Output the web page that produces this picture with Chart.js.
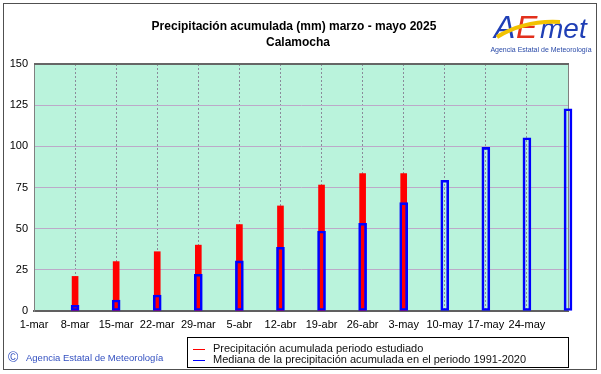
<!DOCTYPE html>
<html>
<head>
<meta charset="utf-8">
<script src="https://cdn.jsdelivr.net/npm/chart.js@4/dist/chart.umd.min.js"></script>
<style>
    html, body { margin: 0; padding: 0; background: #fff; }
    #grafico { display: block; }
</style>
</head>
<body>
<canvas id="grafico" width="601" height="374"></canvas>
<script>
/* ================= DATOS ================= */
const fechas = ["1-mar", "8-mar", "15-mar", "22-mar", "29-mar", "5-abr", "12-abr",
                "19-abr", "26-abr", "3-may", "10-may", "17-may", "24-may", "31-may"];

// precipitación acumulada del periodo estudiado (mm)
const precipitacion = [null, 21, 30, 36, 40, 52.5, 63.8, 76.5, 83.5, 83.5, null, null, null, null];

// mediana de la precipitación acumulada 1991-2020 (mm)
const mediana = [null, 3.5, 6.7, 9.7, 22.3, 30.4, 38.7, 48.6, 53.3, 65.8, 79.4, 99.4, 105.2, 122.8];

const tituloLineas = ["Precipitación acumulada (mm) marzo - mayo 2025", "Calamocha"];
const leyendaTextos = ["Precipitación acumulada periodo estudiado",
                       "Mediana de la precipitación acumulada en el periodo 1991-2020"];

const FUENTE = "'Liberation Sans', Arial, sans-serif";

/* ================= PLUGINS ================= */
const fondo = {
    id: "fondo",
    beforeDraw(chart) {
        const { ctx, chartArea: a } = chart;
        ctx.save();
        ctx.fillStyle = "#fff";
        ctx.fillRect(0, 0, chart.width, chart.height);
        ctx.fillStyle = "#baf3dc";
        ctx.fillRect(a.left, a.top, a.right - a.left, a.bottom - a.top);
        ctx.restore();
    },
    beforeDatasetsDraw(chart) {
        const { ctx, chartArea: a } = chart;
        ctx.save();
        ctx.strokeStyle = "#808080";
        ctx.lineWidth = 1;
        ctx.beginPath();
        ctx.moveTo(a.right + 0.5, a.top);
        ctx.lineTo(a.right + 0.5, a.bottom);
        ctx.stroke();
        ctx.strokeStyle = "#666";
        ctx.lineWidth = 2;
        ctx.beginPath();
        ctx.moveTo(a.left, a.top);
        ctx.lineTo(a.right + 1, a.top);
        ctx.stroke();
        ctx.restore();
    }
};

const decorado = {
    id: "decorado",
    afterDraw(chart) {
        const ctx = chart.ctx;
        ctx.save();

        // marco
        ctx.strokeStyle = "#505050";
        ctx.lineWidth = 1;
        ctx.strokeRect(3.5, 3.5, 593, 366);

        // título
        ctx.fillStyle = "#000";
        ctx.font = "bold 12px " + FUENTE;
        ctx.textAlign = "center";
        ctx.textBaseline = "middle";
        ctx.fillText(tituloLineas[0], 294, 27);
        ctx.fillText(tituloLineas[1], 298, 43);

        // logo
        ctx.textAlign = "left";
        ctx.textBaseline = "alphabetic";
        ctx.font = "italic 32px " + FUENTE;
        ctx.fillStyle = "#1f3fb5";
        ctx.fillText("A", 494, 38);
        ctx.fillStyle = "#e2301c";
        ctx.fillText("E", 516, 38);
        ctx.fillStyle = "#1f3fb5";
        ctx.font = "italic 28px " + FUENTE;
        ctx.fillText("met", 540, 38);
        ctx.strokeStyle = "#f2c200";
        ctx.lineWidth = 4;
        ctx.beginPath();
        ctx.moveTo(497, 37);
        ctx.quadraticCurveTo(525, 20, 560, 22);
        ctx.stroke();
        ctx.font = "7px " + FUENTE;
        ctx.fillStyle = "#2a4aa8";
        ctx.textAlign = "center";
        ctx.fillText("Agencia Estatal de Meteorología", 541, 52);

        // copyright
        ctx.textAlign = "left";
        ctx.textBaseline = "middle";
        ctx.fillStyle = "#3350c0";
        ctx.font = "14px " + FUENTE;
        ctx.fillText("©", 8, 358);
        ctx.font = "9.5px " + FUENTE;
        ctx.fillText("Agencia Estatal de Meteorología", 26, 358);

        // leyenda
        ctx.strokeStyle = "#000";
        ctx.lineWidth = 1;
        ctx.strokeRect(187.5, 337.5, 381, 30);
        const colores = ["#ff0000", "#0000ff"];
        ctx.font = "11px " + FUENTE;
        leyendaTextos.forEach((t, i) => {
            const y = 349 + i * 10.5;
            ctx.fillStyle = colores[i];
            ctx.fillRect(193, Math.round(y), 12, 1);
            ctx.fillStyle = "#111";
            ctx.fillText(t, 213, y);
        });

        ctx.restore();
    }
};

/* ================= GRÁFICO ================= */
new Chart(document.getElementById("grafico"), {
    type: "bar",
    data: {
        labels: fechas,
        datasets: [
            {
                label: leyendaTextos[0],
                data: precipitacion,
                backgroundColor: "#ff0000",
                borderWidth: 0,
                barThickness: 6,
                grouped: false,
                clip: false,
                order: 1
            },
            {
                label: leyendaTextos[1],
                data: mediana,
                backgroundColor: "rgba(0,0,0,0)",
                borderColor: "#0000ff",
                borderWidth: 2,
                borderSkipped: false,
                barThickness: 8,
                grouped: false,
                clip: false,
                order: 0
            }
        ]
    },
    options: {
        responsive: false,
        devicePixelRatio: 1,
        animation: false,
        layout: { padding: { left: 0, right: 33, top: 64, bottom: 43 } },
        plugins: {
            legend: { display: false },
            title: { display: false },
            tooltip: { enabled: false }
        },
        scales: {
            x: {
                offset: false,
                grid: { offset: false, color: "#8a8a9a", drawTicks: false },
                border: { display: true, color: "#606060", width: 2, dash: [2, 2] },
                ticks: {
                    autoSkip: false,
                    maxRotation: 0,
                    padding: 7,
                    color: "#000",
                    font: { family: FUENTE, size: 11 },
                    callback: (v, i) => (i < fechas.length - 1 ? fechas[i] : "")
                },
                afterFit: s => { s.height = 20; }
            },
            y: {
                min: 0,
                max: 150,
                grid: { color: "#bca9c9", drawTicks: false },
                border: { display: true, color: "#808080", width: 1 },
                ticks: {
                    stepSize: 25,
                    padding: 6,
                    color: "#000",
                    font: { family: FUENTE, size: 11 }
                },
                afterFit: s => { s.width = 34; }
            }
        }
    },
    plugins: [fondo, decorado]
});
</script>
</body>
</html>
